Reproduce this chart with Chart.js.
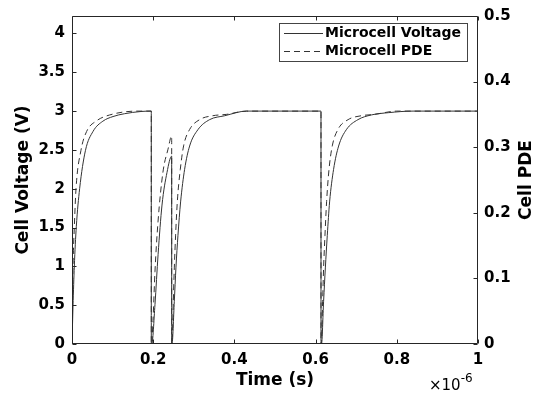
<!DOCTYPE html>
<html><head><meta charset="utf-8">
<script src="https://cdn.jsdelivr.net/npm/chart.js@4"></script>
<style>html,body{margin:0;padding:0;background:#fff}</style>
</head><body>
<canvas id="c" width="548" height="395"></canvas>
<script>
// time in units of 1e-6 s
const voltageTime = [0, 0.0025, 0.0057, 0.0106, 0.0188, 0.033, 0.052, 0.076, 0.101, 0.129, 0.17, 0.1953,
  0.1953, 0.1965, 0.2044, 0.212, 0.2217, 0.234, 0.2455,
  0.2455, 0.2463, 0.252, 0.256, 0.261, 0.2675, 0.2774, 0.2897, 0.310, 0.339, 0.376, 0.43, 0.6133,
  0.6133, 0.6146, 0.6197, 0.624, 0.6288, 0.6345, 0.6443, 0.6567, 0.6756, 0.7044, 0.737, 0.78, 0.84, 1.0];
const voltageValues = [0, 0.49, 1.0, 1.51, 2.0, 2.49, 2.74, 2.87, 2.93, 2.966, 2.995, 3.0,
  0, 0, 0.51, 1.15, 1.79, 2.21, 2.42,
  0, 0, 0.55, 0.98, 1.40, 1.83, 2.25, 2.55, 2.76, 2.89, 2.94, 3.0, 3.0,
  0, 0, 0.55, 0.98, 1.40, 1.83, 2.25, 2.55, 2.76, 2.89, 2.95, 2.98, 3.0, 3.0];
const pdeTime = [0, 0.001, 0.0025, 0.0057, 0.0099, 0.022, 0.036, 0.060, 0.092, 0.16, 0.1953,
  0.1953, 0.1960, 0.1995, 0.2044, 0.2118, 0.224, 0.2365, 0.2455,
  0.2455, 0.2463, 0.2495, 0.252, 0.2552, 0.2594, 0.2667, 0.2749, 0.2897, 0.3143, 0.347, 0.38, 0.43, 0.6133,
  0.6133, 0.6140, 0.6173, 0.6197, 0.6231, 0.6271, 0.633, 0.6411, 0.655, 0.680, 0.7126, 0.745, 0.80, 1.0];
const pdeValues = [0, 0.058, 0.118, 0.178, 0.237, 0.295, 0.324, 0.340, 0.349, 0.355, 0.355,
  0, 0, 0.036, 0.111, 0.186, 0.262, 0.297, 0.317,
  0, 0, 0.065, 0.116, 0.166, 0.217, 0.266, 0.302, 0.327, 0.342, 0.348, 0.350, 0.355, 0.355,
  0, 0, 0.065, 0.116, 0.166, 0.217, 0.266, 0.302, 0.327, 0.342, 0.348, 0.350, 0.355, 0.355];
const seriesLabels = ['Microcell Voltage', 'Microcell PDE'];
const xTitle = 'Time (s)';
const yLeftTitle = 'Cell Voltage (V)';
const yRightTitle = 'Cell PDE';
const xExponent = '-6';

const FONT = 'DejaVu Sans';
const AX = '#262626';
const LINE = '#333333';

function pts(xs, ys){ return xs.map((x,i)=>({x:x, y:ys[i]})); }

const framePlugin = {
  id: 'frame',
  afterDatasetsDraw(chart){
    const {ctx, chartArea:a, scales} = chart;
    const L = Math.round(a.left)+0.5, R = Math.round(a.right)-0.5, T = Math.round(a.top)+0.5, B = Math.round(a.bottom)-0.5;
    const tl = 4;
    ctx.save();
    ctx.strokeStyle = AX; ctx.lineWidth = 1; ctx.setLineDash([]);
    ctx.beginPath();
    ctx.rect(L, T, R-L, B-T);
    scales.x.ticks.forEach(t=>{
      const p = Math.round(scales.x.getPixelForValue(t.value))+0.5;
      ctx.moveTo(p,B); ctx.lineTo(p,B-tl);
      ctx.moveTo(p,T); ctx.lineTo(p,T+tl);
    });
    scales.y.ticks.forEach(t=>{
      const p = Math.round(scales.y.getPixelForValue(t.value))+0.5;
      ctx.moveTo(L,p); ctx.lineTo(L+tl,p);
    });
    scales.y1.ticks.forEach(t=>{
      const p = Math.round(scales.y1.getPixelForValue(t.value))+0.5;
      ctx.moveTo(R,p); ctx.lineTo(R-tl,p);
    });
    ctx.stroke();

    // right axis title (reads bottom to top)
    ctx.fillStyle = '#000';
    ctx.font = 'bold 17px "'+FONT+'"';
    ctx.textAlign = 'center'; ctx.textBaseline = 'middle';
    ctx.save();
    ctx.translate(527, (a.top+a.bottom)/2);
    ctx.rotate(-Math.PI/2);
    ctx.fillText(yRightTitle, 0, 0);
    ctx.restore();

    // exponent label
    ctx.textAlign = 'left'; ctx.textBaseline = 'alphabetic';
    ctx.font = '15px "'+FONT+'"';
    ctx.fillText('\u00d710', 429, 390);
    const w = ctx.measureText('\u00d710').width;
    ctx.font = '12px "'+FONT+'"';
    ctx.fillText(xExponent, 429+w, 382);

    // legend
    const bx = 279.5, by = 23.5, bw = 188, bh = 38;
    ctx.fillStyle = '#fff';
    ctx.fillRect(bx, by, bw, bh);
    ctx.strokeStyle = '#444'; ctx.lineWidth = 1;
    ctx.strokeRect(bx, by, bw, bh);
    const rows = [33.5, 51.5];
    chart.data.datasets.forEach((ds, i)=>{
      ctx.strokeStyle = ds.borderColor; ctx.lineWidth = 1;
      ctx.setLineDash(ds.borderDash || []);
      ctx.beginPath(); ctx.moveTo(284, rows[i]); ctx.lineTo(323, rows[i]); ctx.stroke();
      ctx.setLineDash([]);
      ctx.fillStyle = '#000';
      ctx.font = 'bold 14px "'+FONT+'"';
      ctx.textBaseline = 'middle';
      ctx.fillText(ds.label, 325, rows[i]);
    });
    ctx.restore();
  }
};

const tickFont = {family: FONT, size: 15, weight: 'bold'};
const titleFont = {family: FONT, size: 17, weight: 'bold'};
const noGrid = {display: true, drawOnChartArea: false, drawTicks: false, color: 'rgba(0,0,0,0)'};

new Chart(document.getElementById('c'), {
  type: 'line',
  data: {
    datasets: [
      {label: seriesLabels[0], data: pts(voltageTime, voltageValues), yAxisID: 'y',
       borderColor: LINE, borderWidth: 1, pointRadius: 0, fill: false, cubicInterpolationMode: 'monotone'},
      {label: seriesLabels[1], data: pts(pdeTime, pdeValues), yAxisID: 'y1',
       borderColor: LINE, borderWidth: 1, borderDash: [6,4], pointRadius: 0, fill: false, cubicInterpolationMode: 'monotone'}
    ]
  },
  options: {
    responsive: false, animation: false,
    layout: {padding: {top: 12, left: 0, right: 0, bottom: 0}},
    plugins: {legend: {display: false}, tooltip: {enabled: false}},
    scales: {
      x: {type: 'linear', position: 'bottom', min: 0, max: 1,
        grid: noGrid, border: {display: false},
        ticks: {stepSize: 0.2, padding: 7, color: '#000', font: tickFont, maxRotation: 0,
          callback: v => String(Math.round(v*10)/10)},
        title: {display: true, text: xTitle, color: '#000', font: titleFont, padding: {top: 0, bottom: 4}},
        afterFit: s => { s.height = 51; }
      },
      y: {type: 'linear', position: 'left', min: 0, max: 4.225,
        grid: noGrid, border: {display: false},
        ticks: {stepSize: 0.5, includeBounds: false, padding: 7, color: '#000', font: tickFont,
          callback: v => String(Math.round(v*100)/100)},
        title: {display: true, text: yLeftTitle, color: '#000', font: titleFont, padding: {top: 13, bottom: 0}},
        afterFit: s => { s.width = 72; }
      },
      y1: {type: 'linear', position: 'right', min: 0, max: 0.5,
        grid: noGrid, border: {display: false},
        ticks: {stepSize: 0.1, padding: 6, color: '#000', font: tickFont,
          callback: v => String(Math.round(v*10)/10)},
        afterFit: s => { s.width = 70; }
      }
    }
  },
  plugins: [framePlugin]
});
</script>
</body></html>
